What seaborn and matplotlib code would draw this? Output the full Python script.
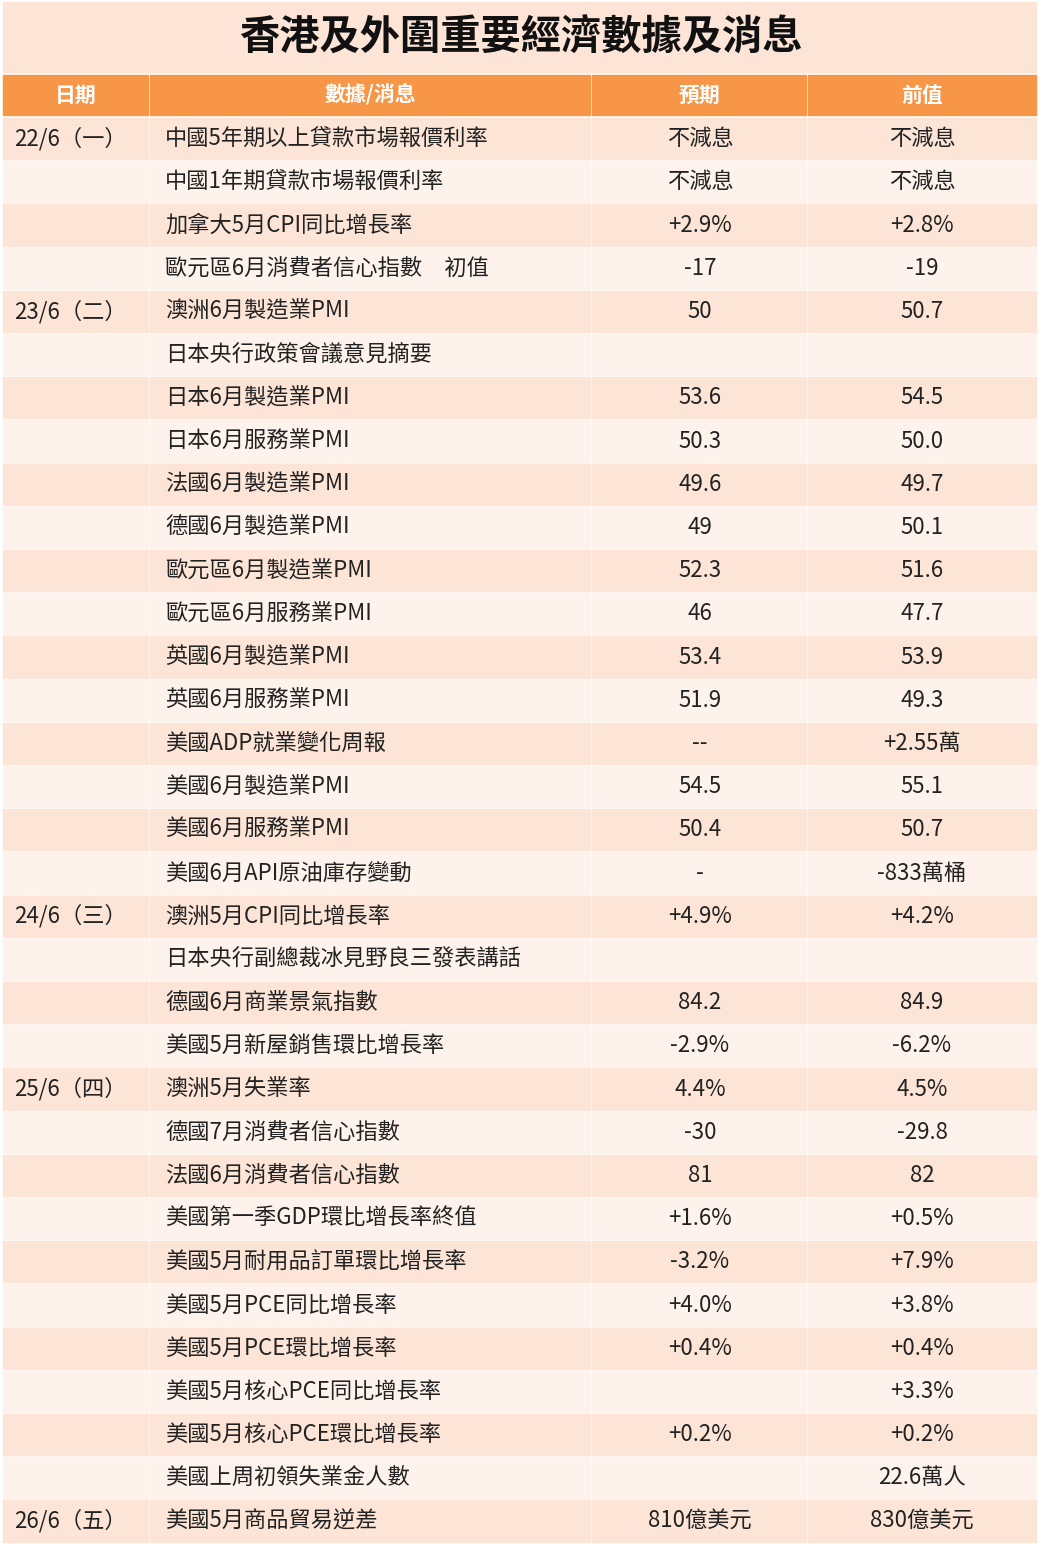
import matplotlib
matplotlib.use("Agg")
import matplotlib.pyplot as plt
import seaborn as sns
from matplotlib.patches import Rectangle

sns.set_theme(style="white")
plt.rcParams['font.family'] = ['Noto Sans CJK TC', 'DejaVu Sans']

title = "香港及外圍重要經濟數據及消息"
headers = ["日期", "數據/消息", "預期", "前值"]
dates = ["22/6（一）", "", "", "", "23/6（二）", "", "", "", "", "", "", "", "", "", "", "", "", "",
         "24/6（三）", "", "", "", "25/6（四）", "", "", "", "", "", "", "", "", "", "26/6（五）"]
items = ["中國5年期以上貸款市場報價利率", "中國1年期貸款市場報價利率", "加拿大5月CPI同比增長率",
         "歐元區6月消費者信心指數　初值", "澳洲6月製造業PMI", "日本央行政策會議意見摘要",
         "日本6月製造業PMI", "日本6月服務業PMI", "法國6月製造業PMI", "德國6月製造業PMI",
         "歐元區6月製造業PMI", "歐元區6月服務業PMI", "英國6月製造業PMI", "英國6月服務業PMI",
         "美國ADP就業變化周報", "美國6月製造業PMI", "美國6月服務業PMI", "美國6月API原油庫存變動",
         "澳洲5月CPI同比增長率", "日本央行副總裁冰見野良三發表講話", "德國6月商業景氣指數",
         "美國5月新屋銷售環比增長率", "澳洲5月失業率", "德國7月消費者信心指數", "法國6月消費者信心指數",
         "美國第一季GDP環比增長率終值", "美國5月耐用品訂單環比增長率", "美國5月PCE同比增長率",
         "美國5月PCE環比增長率", "美國5月核心PCE同比增長率", "美國5月核心PCE環比增長率",
         "美國上周初領失業金人數", "美國5月商品貿易逆差"]
expected = ["不減息", "不減息", "+2.9%", "-17", "50", "", "53.6", "50.3", "49.6", "49", "52.3", "46",
            "53.4", "51.9", "--", "54.5", "50.4", "-", "+4.9%", "", "84.2", "-2.9%", "4.4%", "-30",
            "81", "+1.6%", "-3.2%", "+4.0%", "+0.4%", "", "+0.2%", "", "810億美元"]
previous = ["不減息", "不減息", "+2.8%", "-19", "50.7", "", "54.5", "50.0", "49.7", "50.1", "51.6",
            "47.7", "53.9", "49.3", "+2.55萬", "55.1", "50.7", "-833萬桶", "+4.2%", "", "84.9",
            "-6.2%", "4.5%", "-29.8", "82", "+0.5%", "+7.9%", "+3.8%", "+0.4%", "+3.3%", "+0.2%",
            "22.6萬人", "830億美元"]

W, H = 1042, 1547
fig = plt.figure(figsize=(W / 100, H / 100), dpi=100)
ax = fig.add_axes([0, 0, 1, 1])
ax.set_xlim(0, W)
ax.set_ylim(H, 0)
ax.axis("off")

cols = [(3, 148), (150, 590), (592, 806), (808, 1036)]
dark, light = "#FCE4D6", "#FEF2EC"
orange = "#F79646"

ax.add_patch(Rectangle((3, 2), 1033, 70, color=dark))
ax.text(W / 2, 38, title, ha="center", va="center", fontsize=29, fontweight="bold", color="#111111")

y0, hh = 75, 40
for (a, b), h in zip(cols, headers):
    ax.add_patch(Rectangle((a, y0), b - a, hh, color=orange))
    ax.text((a + b) / 2, y0 + hh / 2, h, ha="center", va="center", fontsize=15,
            fontweight="bold", color="white")

top, rh = 117, 43.2
for i in range(len(items)):
    y = top + i * rh
    c = dark if i % 2 == 0 else light
    for a, b in cols:
        ax.add_patch(Rectangle((a, y + 1), b - a, rh - 2, color=c))
    yc = y + rh / 2
    ax.text(14, yc, dates[i], ha="left", va="center", fontsize=16, color="#222222")
    ax.text(165, yc, items[i], ha="left", va="center", fontsize=16, color="#222222")
    ax.text(700, yc, expected[i], ha="center", va="center", fontsize=16, color="#222222")
    ax.text(922, yc, previous[i], ha="center", va="center", fontsize=16, color="#222222")

fig.savefig("out.png", dpi=100, facecolor="white")
